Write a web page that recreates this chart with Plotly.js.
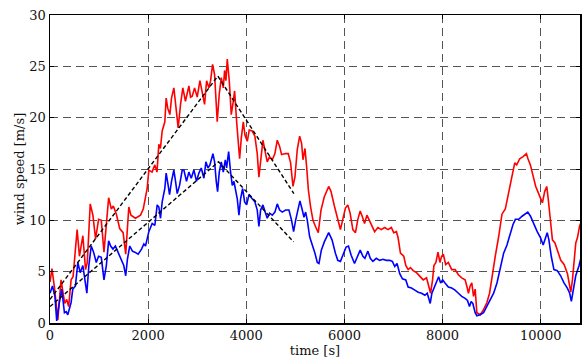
<!DOCTYPE html>
<html><head><meta charset="utf-8">
<script src="https://cdn.plot.ly/plotly-3.0.1.min.js"></script>
<style>html,body{margin:0;padding:0;background:#fff}#c{width:582px;height:358px}</style>
</head><body><div id="c"></div>
<script>
const tRed = [0,40,90,160,225,300,340,380,430,470,553,600,670,724,760,820,874,929,990,1045,1100,1161,1195,1250,1290,1352,1420,1490,1543,1606,1650,1742,1844,1900,1980,2014,2080,2136,2180,2218,2250,2286,2340,2367,2400,2442,2476,2524,2558,2612,2660,2707,2760,2830,2864,2898,2946,3000,3055,3100,3150,3191,3240,3272,3313,3354,3381,3408,3449,3490,3531,3558,3585,3612,3653,3694,3735,3762,3803,3830,3864,3898,3939,3973,4020,4060,4121,4175,4223,4257,4291,4339,4393,4427,4475,4529,4583,4631,4679,4719,4800,4855,4903,4951,4991,5039,5087,5127,5155,5196,5230,5264,5310,5359,5410,5467,5522,5590,5679,5727,5795,5863,5918,5966,6020,6068,6116,6171,6225,6273,6321,6362,6410,6458,6499,6526,6567,6615,6683,6751,6820,6888,6956,7004,7059,7093,7141,7209,7250,7298,7345,7400,7468,7536,7605,7673,7721,7755,7796,7823,7864,7906,7946,7980,8015,8063,8117,8186,8254,8322,8390,8459,8493,8527,8561,8595,8630,8664,8698,8766,8835,8903,8957,9005,9073,9142,9210,9278,9347,9402,9470,9510,9572,9640,9708,9740,9789,9830,9898,9966,10034,10080,10122,10150,10190,10238,10290,10340,10408,10476,10544,10578,10612,10646,10680,10714,10748,10790,10836];
const vRed = [4.0,5.3,3.5,0.3,4.2,1.9,2.3,1.6,4.2,4.5,9.1,6.5,8.5,5.2,5.9,11.6,10.5,8.2,10.1,10.0,6.9,10.1,12.2,11.1,11.4,10.6,9.2,8.8,6.7,11.3,10.5,10.2,10.5,11.1,13.1,14.9,14.7,15.4,14.7,17.4,17.0,18.7,19.6,21.9,20.9,20.3,21.9,22.9,21.3,19.0,21.3,22.9,21.6,23.1,22.0,22.1,22.9,22.0,23.6,22.3,21.3,23.6,22.9,23.6,25.2,24.2,21.3,19.6,22.3,23.9,22.9,24.6,23.6,25.7,23.6,20.3,21.6,22.6,19.6,18.3,16.0,18.0,19.6,18.3,17.7,18.8,18.7,18.2,16.5,14.2,15.9,17.8,16.5,15.7,16.2,15.9,16.5,17.8,17.2,16.4,16.5,16.5,15.6,13.3,14.2,16.9,18.2,17.5,15.9,17.0,15.2,13.0,11.3,10.0,9.4,8.8,11.0,12.3,13.3,12.8,11.4,10.1,9.1,10.1,11.2,11.5,10.7,9.1,8.8,10.1,10.9,10.4,9.7,10.5,10.1,9.7,9.4,8.9,9.3,9.1,9.3,9.1,9.3,8.8,8.9,8.3,6.8,6.5,5.6,5.2,5.4,5.1,4.9,4.6,4.2,4.4,3.6,2.9,4.2,5.6,5.9,6.9,5.9,6.5,6.7,5.7,5.9,5.2,5.2,4.7,4.4,4.2,3.6,2.9,3.6,3.9,2.6,3.3,1.0,0.8,1.3,2.0,2.9,4.6,6.5,8.4,10.6,11.1,12.7,14.3,15.6,15.4,16.0,16.2,16.5,16.0,15.4,14.6,13.3,12.5,11.7,12.8,13.3,12.2,10.4,8.1,7.8,7.1,6.1,5.7,4.8,3.9,3.0,4.2,6.5,7.8,8.3,9.4,10.0];

const tBlue = [0,50,100,137,191,240,294,330,362,396,430,464,518,567,615,669,724,751,792,840,888,943,990,1045,1100,1148,1195,1236,1284,1332,1386,1454,1503,1543,1577,1625,1680,1728,1796,1865,1913,1946,2014,2082,2136,2184,2218,2252,2286,2340,2367,2408,2436,2476,2524,2558,2592,2640,2694,2728,2782,2830,2878,2932,2986,3034,3082,3136,3177,3218,3259,3320,3354,3388,3415,3449,3490,3531,3572,3599,3640,3680,3714,3748,3782,3816,3850,3884,3925,3966,4007,4055,4121,4175,4223,4257,4291,4339,4393,4427,4475,4529,4583,4631,4679,4733,4801,4869,4923,4964,5005,5053,5093,5141,5175,5209,5243,5291,5345,5399,5447,5481,5529,5590,5679,5747,5816,5864,5918,5980,6034,6082,6137,6205,6253,6321,6376,6417,6478,6526,6580,6649,6717,6785,6854,6922,6977,7025,7072,7127,7182,7250,7298,7366,7434,7502,7571,7639,7687,7721,7748,7782,7823,7878,7919,7960,8001,8049,8117,8186,8254,8322,8390,8459,8507,8548,8582,8616,8664,8698,8766,8835,8903,8971,9040,9108,9176,9244,9312,9381,9435,9483,9551,9620,9688,9736,9791,9859,9928,9996,10050,10098,10132,10166,10214,10269,10337,10405,10474,10542,10590,10624,10665,10713,10781,10829];
const vBlue = [2.9,3.6,2.6,0.2,2.0,3.3,1.0,1.1,0.8,1.3,2.0,3.3,3.6,5.9,4.9,5.6,3.6,2.9,5.6,7.5,6.9,5.9,6.5,6.4,4.2,5.6,8.0,7.5,7.2,7.5,6.9,6.2,5.6,4.6,6.2,7.5,7.0,6.9,6.7,7.2,7.7,7.5,8.9,9.7,9.5,11.5,11.3,10.2,11.8,13.1,14.6,13.4,12.5,13.8,14.9,13.8,12.6,13.4,14.9,14.9,13.8,14.7,14.1,14.9,13.8,14.6,15.1,14.1,15.7,15.1,15.4,16.5,15.7,13.8,12.8,14.7,15.7,14.7,15.9,15.1,16.7,14.7,13.4,13.8,13.1,12.1,10.5,12.1,13.1,11.8,11.5,12.5,12.1,11.8,11.0,9.4,11.0,11.5,10.7,10.2,10.7,10.5,10.8,11.6,11.0,10.8,11.0,11.0,10.0,8.9,10.0,11.0,11.9,11.0,10.3,10.8,10.0,8.4,7.7,6.8,5.9,5.8,7.1,7.9,8.8,8.1,6.8,6.1,6.0,6.8,7.4,7.5,6.6,5.8,6.3,7.1,6.5,6.3,7.0,6.3,6.0,6.3,6.1,6.2,6.1,6.1,6.0,5.5,5.8,4.8,4.3,4.2,3.5,3.4,3.2,3.0,2.9,2.7,2.9,2.4,1.9,2.9,3.4,3.9,4.5,3.9,4.2,3.9,3.5,3.4,3.2,2.9,2.6,2.4,2.2,1.6,2.1,1.9,1.0,0.7,0.8,1.0,1.6,2.3,2.9,3.9,5.2,6.8,7.6,8.8,9.6,10.1,10.1,10.4,10.6,10.8,10.4,9.6,8.9,8.3,7.6,8.3,8.8,8.1,6.5,5.2,5.1,4.6,3.9,3.4,2.9,2.1,3.3,4.6,5.6,6.5];

const tUpper = [0,3420,4970];
const vUpper = [2.3,24.05,12.6];
const tLower = [0,3434,4964];
const vLower = [1.6,15.7,7.9];

const xTicks = [0,2000,4000,6000,8000,10000];
const yTicks = [0,5,10,15,20,25,30];

const traces = [
  {x:tRed, y:vRed, mode:'lines', line:{color:'#ff0000', width:1.6}},
  {x:tBlue, y:vBlue, mode:'lines', line:{color:'#0000ff', width:1.6}},
  {x:tUpper, y:vUpper, mode:'lines', line:{color:'#000', width:1.4, dash:'4px,2.5px'}},
  {x:tLower, y:vLower, mode:'lines', line:{color:'#000', width:1.4, dash:'4px,2.5px'}}
];
const font = {family:'DejaVu Serif, serif', size:13, color:'#111'};
const layout = {
  width:582, height:358,
  margin:{l:50, r:2, t:15, b:35},
  showlegend:false,
  paper_bgcolor:'#fff', plot_bgcolor:'#fff',
  font:font,
  xaxis:{range:[0,10800], tickvals:xTicks, ticktext:xTicks.map(String),
    showline:true, linecolor:'#000', linewidth:1.5, mirror:'ticks',
    ticks:'inside', ticklen:4, tickcolor:'#000',
    showgrid:true, gridcolor:'#555', gridwidth:1, griddash:'8px,5px',
    zeroline:false, title:{text:'time [s]', standoff:1, font:font}},
  yaxis:{range:[0,30], tickvals:yTicks, ticktext:yTicks.map(String),
    showline:true, linecolor:'#000', linewidth:1.5, mirror:'ticks',
    ticks:'inside', ticklen:4, tickcolor:'#000',
    showgrid:true, gridcolor:'#555', gridwidth:1, griddash:'8px,5px',
    zeroline:false, title:{text:'wind speed [m/s]', standoff:2, font:font}}
};
Plotly.newPlot('c', traces, layout, {staticPlot:true, displayModeBar:false});
</script></body></html>
